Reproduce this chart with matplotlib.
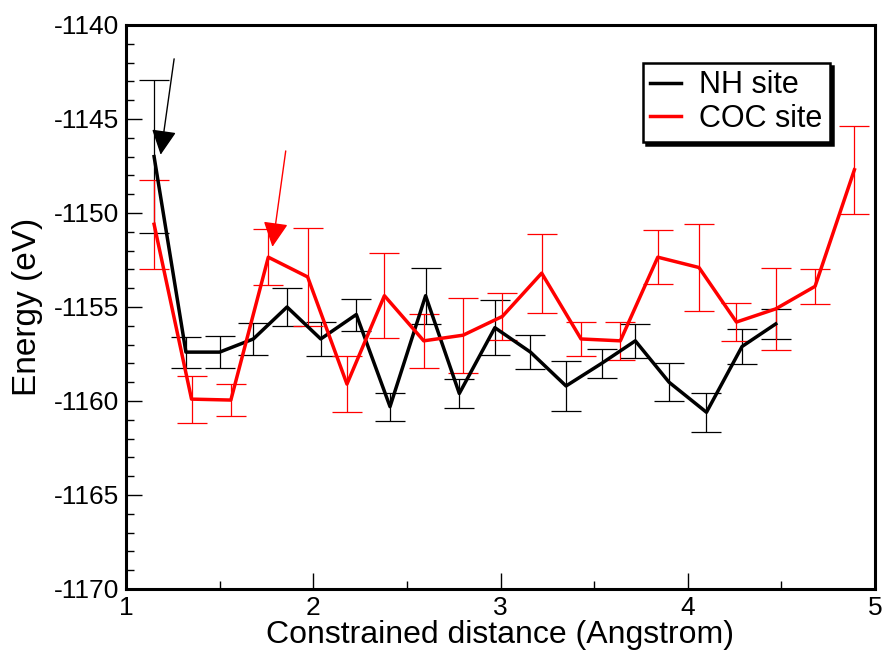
import numpy as np
import matplotlib
matplotlib.use("Agg")
import matplotlib.pyplot as plt

plt.rcParams['font.family'] = ['Liberation Sans', 'DejaVu Sans']
plt.rcParams['axes.unicode_minus'] = False

# NH site (black)
nh_x = [1.15, 1.32, 1.50, 1.68, 1.86, 2.04, 2.23, 2.41, 2.60, 2.78, 2.97, 3.16, 3.35, 3.54, 3.72, 3.90, 4.10, 4.29, 4.47]
nh_e = [-1147.0, -1157.4, -1157.4, -1156.7, -1155.0, -1156.7, -1155.4, -1160.3, -1154.4, -1159.6,
        -1156.1, -1157.4, -1159.2, -1158.0, -1156.8, -1159.0, -1160.6, -1157.1, -1155.9]
nh_err = [4.05, 0.83, 0.87, 0.85, 1.0, 0.88, 0.85, 0.75, 1.5, 0.78, 1.45, 0.92, 1.35, 0.75, 0.9, 1.0, 1.05, 0.93, 0.8]

# COC site (red)
coc_x = [1.15, 1.35, 1.56, 1.76, 1.97, 2.18, 2.38, 2.59, 2.80, 3.01, 3.22, 3.43, 3.64, 3.84, 4.06, 4.26, 4.47, 4.68, 4.89]
coc_e = [-1150.6, -1159.9, -1159.95, -1152.35, -1153.4, -1159.1, -1154.4, -1156.8, -1156.5, -1155.5,
         -1153.2, -1156.7, -1156.8, -1152.35, -1152.9, -1155.8, -1155.1, -1153.9, -1147.7]
coc_err = [2.37, 1.25, 0.83, 1.5, 2.6, 1.5, 2.25, 1.45, 2.0, 1.23, 2.1, 0.9, 1.0, 1.45, 2.33, 1.02, 2.2, 0.94, 2.34]

# arrows (tail, tip)
black_arrow = [(1.257, -1141.8), (1.185, -1146.9)]
red_arrow = [(1.853, -1146.7), (1.782, -1151.8)]

fig = plt.figure(figsize=(8.84, 6.56), dpi=100)
ax = fig.add_axes([126/884, 1-589/656, 749/884, 564/656])

ax.errorbar(nh_x, nh_e, yerr=nh_err, fmt='none', ecolor='black', elinewidth=0.9, capsize=11, capthick=0.9)
ax.errorbar(coc_x, coc_e, yerr=coc_err, fmt='none', ecolor='red', elinewidth=0.9, capsize=11, capthick=0.9)
ax.plot(nh_x, nh_e, color='black', lw=2.5, label='NH site')
ax.plot(coc_x, coc_e, color='red', lw=2.5, label='COC site')

for (tail, tip), col in [(black_arrow, 'black'), (red_arrow, 'red')]:
    ax.annotate('', xy=tip, xytext=tail,
                arrowprops=dict(arrowstyle='-|>,head_length=0.7,head_width=0.35',
                                color=col, lw=1.0, mutation_scale=22, shrinkA=0, shrinkB=0))

ax.set_xlim(1, 5)
ax.set_ylim(-1170, -1140)
ax.set_xticks([1, 2, 3, 4, 5])
ax.set_xticks(np.arange(1.5, 5, 1.0), minor=True)
ax.set_yticks(np.arange(-1170, -1139, 5))
ax.set_yticks(np.arange(-1170, -1139, 1), minor=True)
ax.tick_params(which='both', direction='in', width=1.0, labelsize=19)
ax.tick_params(which='major', length=11.5, pad=5)
ax.tick_params(which='minor', length=5.8)
for s in ax.spines.values():
    s.set_linewidth(2.2)

ax.set_xlabel('Constrained distance (Angstrom)', fontsize=23, labelpad=0)
ax.set_ylabel('Energy (eV)', fontsize=24, labelpad=8)

leg = ax.legend(loc='upper left', bbox_to_anchor=(0.69, 0.933), borderaxespad=0,
                fontsize=22, handlelength=1.0, handletextpad=0.6, labelspacing=0.12,
                borderpad=0.25, fancybox=False, framealpha=1,
                shadow={'color': 'black', 'alpha': 1})
leg.get_frame().set_edgecolor('black')
leg.get_frame().set_linewidth(1.8)

fig.savefig('out.png', dpi=100)
